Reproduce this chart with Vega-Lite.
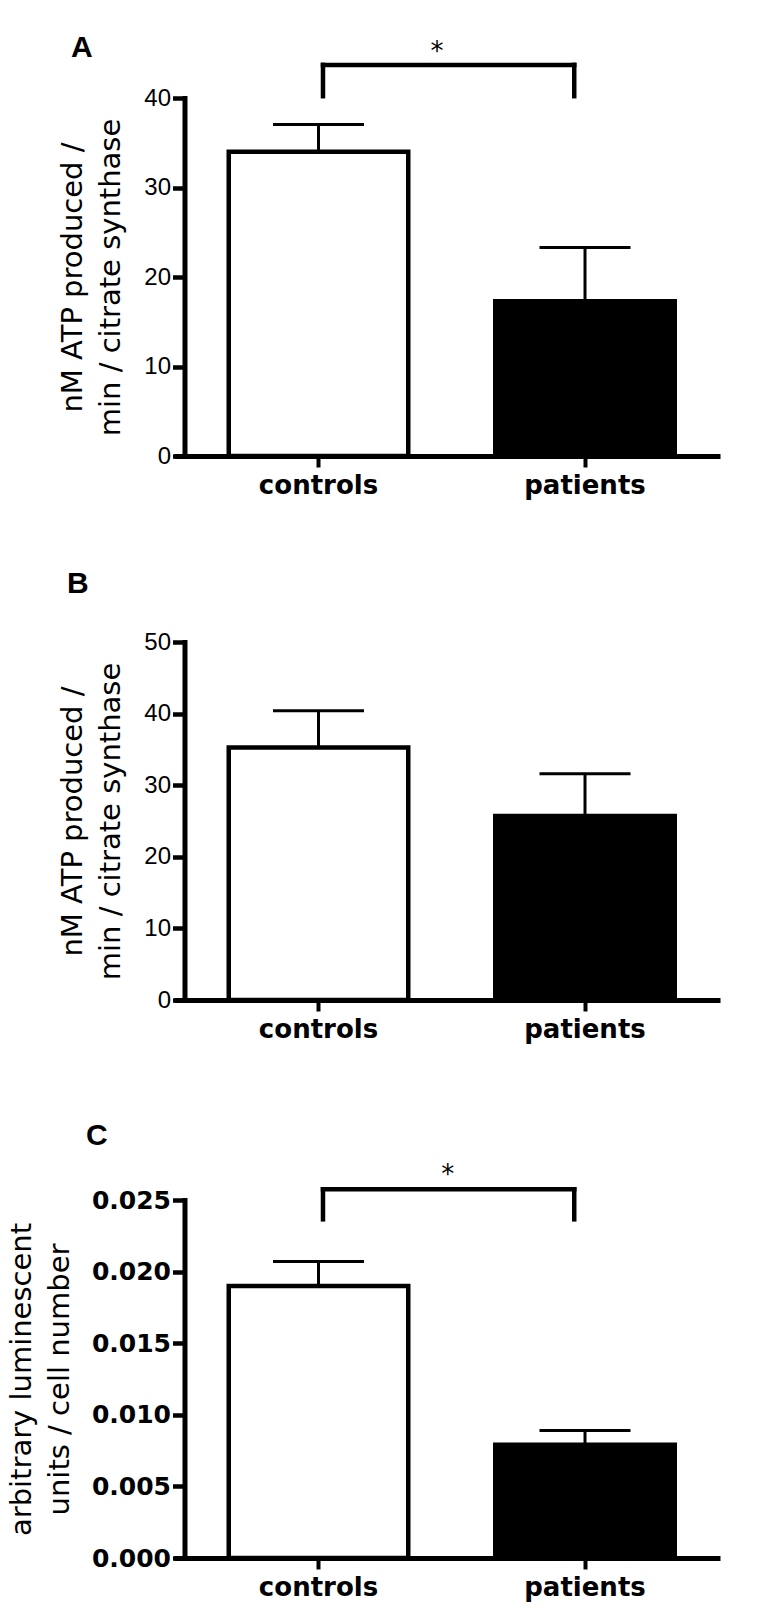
{
  "$schema": "https://vega.github.io/schema/vega-lite/v6.json",
  "background": "white",
  "padding": {"left": 7, "top": 33, "right": 5, "bottom": 5},
  "config": {
    "view": {"stroke": null},
    "axis": {"grid": false, "domainColor": "black", "tickColor": "black", "labelColor": "black", "titleColor": "black"},
    "title": {"anchor": "start", "frame": "group", "font": "Liberation Sans", "fontSize": 30, "fontWeight": "bold", "color": "black", "baseline": "alphabetic", "offset": 0}
  },
  "datasets": {
    "a": [
      {"group": "controls", "mean": 34.0, "upper": 37.05},
      {"group": "patients", "mean": 17.3, "upper": 23.3}
    ],
    "b": [
      {"group": "controls", "mean": 35.25, "upper": 40.4},
      {"group": "patients", "mean": 25.7, "upper": 31.6}
    ],
    "c": [
      {"group": "controls", "mean": 0.0190, "upper": 0.0207},
      {"group": "patients", "mean": 0.0079, "upper": 0.0089}
    ],
    "sigA": [{"left": "controls", "right": "patients", "low": 40.2, "high": 43.7, "star": 44.2, "label": "*"}],
    "sigC": [{"left": "controls", "right": "patients", "low": 0.02365, "high": 0.02575, "star": 0.0262, "label": "*"}]
  },
  "spacing": 70,
  "vconcat": [
    {
      "title": {"text": "A", "dx": -103, "dy": 28},
      "width": 546,
      "height": 358,
      "layer": [
        {
          "data": {"name": "a"},
          "mark": {"type": "bar", "stroke": "black", "strokeWidth": 4.5},
          "encoding": {
            "x": {"field": "group", "type": "nominal", "title": null, "scale": {"domain": ["controls", "patients"], "paddingInner": 0.3265, "paddingOuter": 0.1876, "align": 0.5475},
              "axis": {"labelAngle": 0, "labelFont": "DejaVu Sans", "labelFontWeight": "bold", "labelFontSize": 26, "labelPadding": 5, "tickSize": 11, "tickWidth": 4, "domainWidth": 5}},
            "y": {"field": "mean", "type": "quantitative", "title": ["nM ATP produced /", "min / citrate synthase"], "scale": {"domain": [0, 40], "nice": false},
              "axis": {"values": [0, 10, 20, 30, 40], "titleFont": "DejaVu Sans", "titleFontSize": 29, "titleFontWeight": "normal", "titleLineHeight": 38, "titlePadding": 18, "labelFont": "Liberation Sans", "labelFontSize": 24, "labelPadding": 2, "tickSize": 12, "tickWidth": 4.5, "domainWidth": 5, "domainCap": "square", "offset": -10.5}},
            "fill": {"field": "group", "type": "nominal", "scale": {"domain": ["controls", "patients"], "range": ["white", "black"]}, "legend": null}
          }
        },
        {
          "data": {"name": "a"},
          "mark": {"type": "rule", "strokeWidth": 3, "color": "black"},
          "encoding": {
            "x": {"field": "group", "type": "nominal", "title": null},
            "y": {"field": "mean", "type": "quantitative", "title": ["nM ATP produced /", "min / citrate synthase"]},
            "y2": {"field": "upper"}
          }
        },
        {
          "data": {"name": "a"},
          "mark": {"type": "tick", "size": 91, "thickness": 3, "color": "black", "opacity": 1},
          "encoding": {
            "x": {"field": "group", "type": "nominal", "title": null},
            "y": {"field": "upper", "type": "quantitative", "title": ["nM ATP produced /", "min / citrate synthase"]}
          }
        },
        {
          "data": {"name": "sigA"},
          "mark": {"type": "rule", "strokeWidth": 4.5, "color": "black", "strokeCap": "square"},
          "encoding": {
            "x": {"field": "left", "type": "nominal", "bandPosition": 0.525, "title": null},
            "y": {"field": "low", "type": "quantitative", "title": ["nM ATP produced /", "min / citrate synthase"]},
            "y2": {"field": "high"}
          }
        },
        {
          "data": {"name": "sigA"},
          "mark": {"type": "rule", "strokeWidth": 4.5, "color": "black", "strokeCap": "square"},
          "encoding": {
            "x": {"field": "right", "type": "nominal", "bandPosition": 0.44, "title": null},
            "y": {"field": "low", "type": "quantitative", "title": ["nM ATP produced /", "min / citrate synthase"]},
            "y2": {"field": "high"}
          }
        },
        {
          "data": {"name": "sigA"},
          "mark": {"type": "rule", "strokeWidth": 4.5, "color": "black", "strokeCap": "square"},
          "encoding": {
            "x": {"field": "left", "type": "nominal", "bandPosition": 0.525, "title": null},
            "x2": {"field": "right", "bandPosition": 0.44},
            "y": {"field": "high", "type": "quantitative", "title": ["nM ATP produced /", "min / citrate synthase"]}
          }
        },
        {
          "data": {"name": "sigA"},
          "mark": {"type": "text", "font": "DejaVu Sans", "fontSize": 26, "baseline": "alphabetic", "align": "center", "color": "black"},
          "encoding": {
            "x": {"field": "left", "type": "nominal", "bandPosition": 1.16, "title": null},
            "y": {"field": "star", "type": "quantitative", "title": ["nM ATP produced /", "min / citrate synthase"]},
            "text": {"field": "label"}
          }
        }
      ]
    },
    {
      "spacing": 78,
      "vconcat": [
        {
          "title": {"text": "B", "dx": -107, "dy": -27.5},
          "width": 546,
          "height": 358,
          "layer": [
            {
              "data": {"name": "b"},
              "mark": {"type": "bar", "stroke": "black", "strokeWidth": 4.5},
              "encoding": {
                "x": {"field": "group", "type": "nominal", "title": null, "scale": {"domain": ["controls", "patients"], "paddingInner": 0.3265, "paddingOuter": 0.1876, "align": 0.5475},
                  "axis": {"labelAngle": 0, "labelFont": "DejaVu Sans", "labelFontWeight": "bold", "labelFontSize": 26, "labelPadding": 5, "tickSize": 11, "tickWidth": 4, "domainWidth": 5}},
                "y": {"field": "mean", "type": "quantitative", "title": ["nM ATP produced /", "min / citrate synthase"], "scale": {"domain": [0, 50], "nice": false},
                  "axis": {"values": [0, 10, 20, 30, 40, 50], "titleFont": "DejaVu Sans", "titleFontSize": 29, "titleFontWeight": "normal", "titleLineHeight": 38, "titlePadding": 18, "labelFont": "Liberation Sans", "labelFontSize": 24, "labelPadding": 2, "tickSize": 12, "tickWidth": 4.5, "domainWidth": 5, "domainCap": "square", "offset": -10.5}},
                "fill": {"field": "group", "type": "nominal", "scale": {"domain": ["controls", "patients"], "range": ["white", "black"]}, "legend": null}
              }
            },
            {
              "data": {"name": "b"},
              "mark": {"type": "rule", "strokeWidth": 3, "color": "black"},
              "encoding": {
                "x": {"field": "group", "type": "nominal", "title": null},
                "y": {"field": "mean", "type": "quantitative", "title": ["nM ATP produced /", "min / citrate synthase"]},
                "y2": {"field": "upper"}
              }
            },
            {
              "data": {"name": "b"},
              "mark": {"type": "tick", "size": 91, "thickness": 3, "color": "black", "opacity": 1},
              "encoding": {
                "x": {"field": "group", "type": "nominal", "title": null},
                "y": {"field": "upper", "type": "quantitative", "title": ["nM ATP produced /", "min / citrate synthase"]}
              }
            }
          ]
        },
        {
          "title": {"text": "C", "dx": -88, "dy": -7},
          "width": 546,
          "height": 358,
          "layer": [
            {
              "data": {"name": "c"},
              "mark": {"type": "bar", "stroke": "black", "strokeWidth": 4.5},
              "encoding": {
                "x": {"field": "group", "type": "nominal", "title": null, "scale": {"domain": ["controls", "patients"], "paddingInner": 0.3265, "paddingOuter": 0.1876, "align": 0.5475},
                  "axis": {"labelAngle": 0, "labelFont": "DejaVu Sans", "labelFontWeight": "bold", "labelFontSize": 26, "labelPadding": 5, "tickSize": 11, "tickWidth": 4, "domainWidth": 5}},
                "y": {"field": "mean", "type": "quantitative", "title": ["arbitrary luminescent", "units / cell number"], "scale": {"domain": [0, 0.025], "nice": false},
                  "axis": {"values": [0, 0.005, 0.01, 0.015, 0.02, 0.025], "format": ".3f", "titleFont": "DejaVu Sans", "titleFontSize": 29, "titleFontWeight": "normal", "titleLineHeight": 38, "titlePadding": 17, "labelFont": "DejaVu Sans", "labelFontWeight": "bold", "labelFontSize": 25, "labelPadding": 2, "tickSize": 12, "tickWidth": 4.5, "domainWidth": 5, "domainCap": "square", "offset": -10.5}},
                "fill": {"field": "group", "type": "nominal", "scale": {"domain": ["controls", "patients"], "range": ["white", "black"]}, "legend": null}
              }
            },
            {
              "data": {"name": "c"},
              "mark": {"type": "rule", "strokeWidth": 3, "color": "black"},
              "encoding": {
                "x": {"field": "group", "type": "nominal", "title": null},
                "y": {"field": "mean", "type": "quantitative", "title": ["arbitrary luminescent", "units / cell number"]},
                "y2": {"field": "upper"}
              }
            },
            {
              "data": {"name": "c"},
              "mark": {"type": "tick", "size": 91, "thickness": 3, "color": "black", "opacity": 1},
              "encoding": {
                "x": {"field": "group", "type": "nominal", "title": null},
                "y": {"field": "upper", "type": "quantitative", "title": ["arbitrary luminescent", "units / cell number"]}
              }
            },
            {
              "data": {"name": "sigC"},
              "mark": {"type": "rule", "strokeWidth": 4.5, "color": "black", "strokeCap": "square"},
              "encoding": {
                "x": {"field": "left", "type": "nominal", "bandPosition": 0.525, "title": null},
                "y": {"field": "low", "type": "quantitative", "title": ["arbitrary luminescent", "units / cell number"]},
                "y2": {"field": "high"}
              }
            },
            {
              "data": {"name": "sigC"},
              "mark": {"type": "rule", "strokeWidth": 4.5, "color": "black", "strokeCap": "square"},
              "encoding": {
                "x": {"field": "right", "type": "nominal", "bandPosition": 0.44, "title": null},
                "y": {"field": "low", "type": "quantitative", "title": ["arbitrary luminescent", "units / cell number"]},
                "y2": {"field": "high"}
              }
            },
            {
              "data": {"name": "sigC"},
              "mark": {"type": "rule", "strokeWidth": 4.5, "color": "black", "strokeCap": "square"},
              "encoding": {
                "x": {"field": "left", "type": "nominal", "bandPosition": 0.525, "title": null},
                "x2": {"field": "right", "bandPosition": 0.44},
                "y": {"field": "high", "type": "quantitative", "title": ["arbitrary luminescent", "units / cell number"]}
              }
            },
            {
              "data": {"name": "sigC"},
              "mark": {"type": "text", "font": "DejaVu Sans", "fontSize": 26, "baseline": "alphabetic", "align": "center", "color": "black"},
              "encoding": {
                "x": {"field": "left", "type": "nominal", "bandPosition": 1.22, "title": null},
                "y": {"field": "star", "type": "quantitative", "title": ["arbitrary luminescent", "units / cell number"]},
                "text": {"field": "label"}
              }
            }
          ]
        }
      ]
    }
  ]
}
